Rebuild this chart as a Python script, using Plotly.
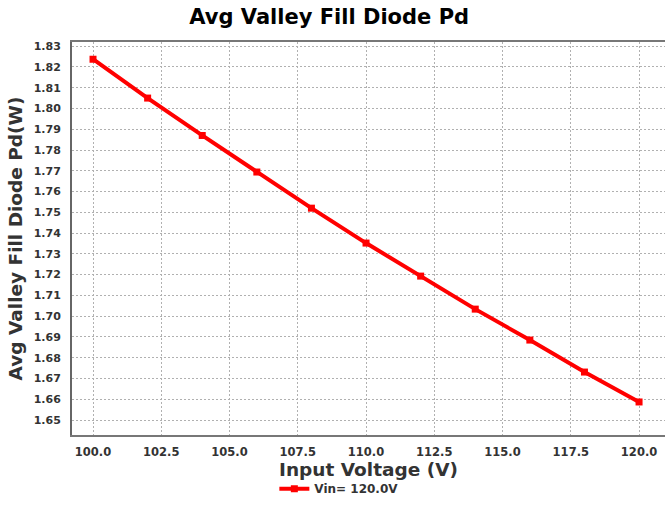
import plotly.graph_objects as go

input_voltage = [100, 102, 104, 106, 108, 110, 112, 114, 116, 118, 120]
diode_pd = [1.8237, 1.8050, 1.7870, 1.7694, 1.7520, 1.7352, 1.7193, 1.7034, 1.6885, 1.6731, 1.6587]
x_ticks = [100.0, 102.5, 105.0, 107.5, 110.0, 112.5, 115.0, 117.5, 120.0]
y_ticks = [round(1.65 + 0.01 * i, 2) for i in range(19)]

fig = go.Figure()
fig.add_trace(go.Scatter(
    x=input_voltage, y=diode_pd, mode="lines+markers", name="<b>Vin= 120.0V</b>",
    line=dict(color="#ff0000", width=4),
    marker=dict(symbol="square", size=7, color="#ff0000"),
    cliponaxis=False,
))

font_family = "DejaVu Sans, sans-serif"
fig.update_layout(
    width=665, height=511,
    margin=dict(l=72, r=0, t=42, b=76),
    paper_bgcolor="white", plot_bgcolor="white",
    title=dict(text="<b>Avg Valley Fill Diode Pd</b>", x=0.495, xanchor="center", y=0.982, yanchor="top",
               font=dict(family=font_family, size=21, color="#000000")),
    showlegend=True,
    legend=dict(orientation="h", x=0.45, xanchor="center", y=-0.10, yanchor="top",
                font=dict(family=font_family, size=12, color="#333333"), itemwidth=30),
    font=dict(family=font_family),
)
fig.update_xaxes(
    range=[99.23, 120.95], tickvals=x_ticks, ticktext=[f"<b>{v:.1f}</b>" for v in x_ticks],
    showgrid=True, gridcolor="#b0b0b0", griddash="2px,2px", gridwidth=1,
    showline=True, linecolor="#777777", linewidth=2, mirror=True,
    ticks="", ticklabelstandoff=5, tickfont=dict(family=font_family, size=11.5, color="#333333"),
    title=dict(text="<b>Input Voltage (V)</b>", font=dict(family=font_family, size=18.5, color="#333333"), standoff=3),
    zeroline=False, automargin=False,
)
fig.update_yaxes(
    range=[1.6428, 1.832], tickvals=y_ticks, ticktext=[f"<b>{v:.2f}</b>" for v in y_ticks],
    showgrid=True, gridcolor="#b0b0b0", griddash="2px,2px", gridwidth=1,
    showline=True, linecolor="#666666", linewidth=2, mirror=False,
    ticks="", ticklabelstandoff=7, tickfont=dict(family=font_family, size=11, color="#333333"),
    title=dict(text="<b>Avg Valley Fill Diode Pd(W)</b>", font=dict(family=font_family, size=18.5, color="#333333"), standoff=6),
    zeroline=False, automargin=False,
)

fig.write_html("out.html", config={"displayModeBar": False},
               post_script="document.body.style.margin='0';")
